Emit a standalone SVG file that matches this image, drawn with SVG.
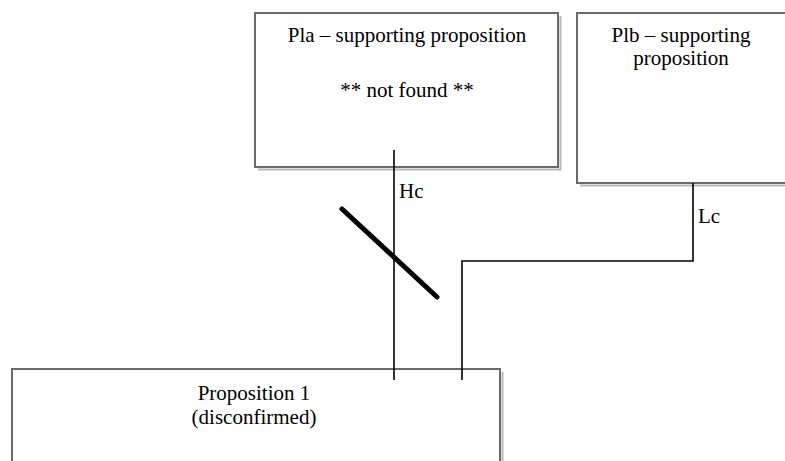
<svg xmlns="http://www.w3.org/2000/svg" width="785" height="461" viewBox="0 0 785 461">
<style>
.box{fill:#fff;stroke:#6a6a6a;stroke-width:2}
.sh{fill:none;stroke:#b8b8b8;stroke-width:2}
.t{font-family:"Liberation Serif","Times New Roman",serif;font-size:21px;fill:#000;text-anchor:middle}
.l{font-family:"Liberation Serif","Times New Roman",serif;font-size:21px;fill:#000}
.c{fill:none;stroke:#000;stroke-width:1.6}
</style>
<rect width="785" height="461" fill="#fff"/>
<g id="pla">
<path class="sh" d="M258 169.5 H560.5 V16"/>
<rect class="box" x="255" y="13" width="303" height="154"/>
<text class="t" x="407" y="42">Pla – supporting proposition</text>
<text class="t" x="407" y="97">** not found **</text>
</g>
<g id="plb">
<path class="sh" d="M580 185.5 H790"/>
<rect class="box" x="577" y="13" width="220" height="170"/>
<text class="t" x="681" y="42">Plb – supporting</text>
<text class="t" x="681" y="65">proposition</text>
</g>
<g id="prop1">
<rect class="box" x="12" y="369" width="488" height="110"/>
<path class="sh" d="M502.5 372 V470"/>
<text class="t" x="254" y="400" font-size="21.5">Proposition 1</text>
<text class="t" x="254" y="424" font-size="21.5">(disconfirmed)</text>
</g>
<g id="connectors">
<line class="c" x1="394" y1="150" x2="394" y2="380"/>
<path class="c" d="M693 183 V261 H462 V380"/>
<line x1="342" y1="209" x2="437" y2="297" stroke="#000" stroke-width="5" stroke-linecap="round"/>
<text class="l" x="399" y="198">Hc</text>
<text class="l" x="698" y="223">Lc</text>
</g>
</svg>
